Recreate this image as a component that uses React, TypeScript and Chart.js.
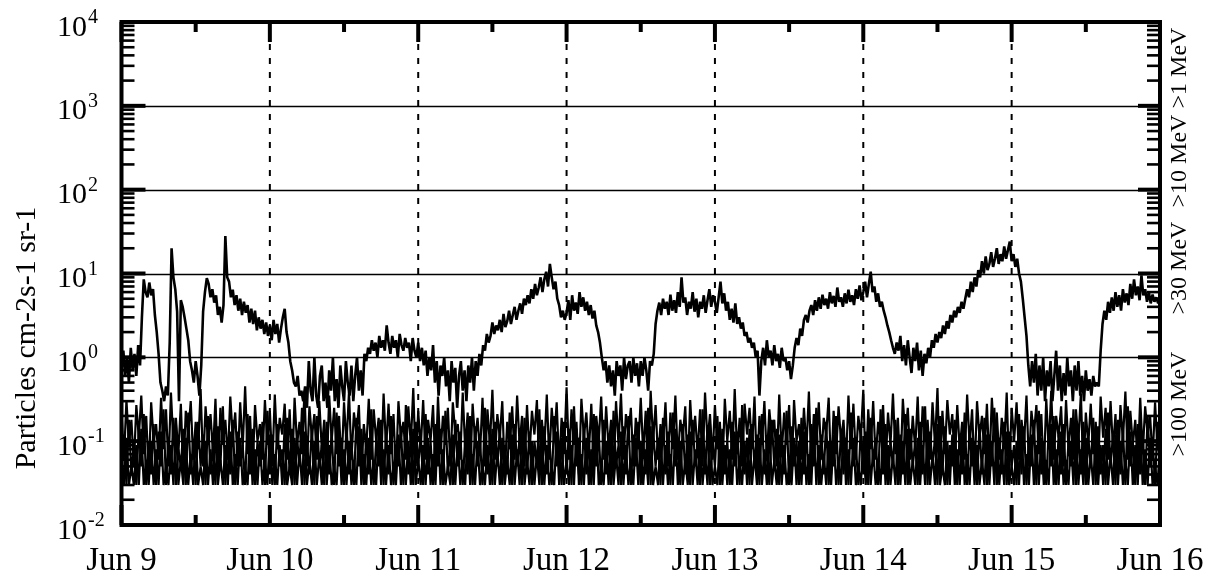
import { useEffect, useRef } from "react";
import { Chart, registerables } from "chart.js";

Chart.register(...registerables);

// ---- data -------------------------------------------------------------
const DAY_LABELS = ["Jun 9", "Jun 10", "Jun 11", "Jun 12", "Jun 13", "Jun 14", "Jun 15", "Jun 16"];
const SAMPLES_PER_DAY_1MEV = 80;
const SAMPLES_PER_DAY_HIGH = 60;
const Y_EXPONENTS = [-2, -1, 0, 1, 2, 3, 4];
const GRID_EXPONENTS = [-1, 0, 1, 2, 3];
const Y_TITLE = "Particles cm-2s-1 sr-1";
const CHANNEL_LABELS = [">100 MeV", ">30 MeV", ">10 MeV", ">1 MeV"];

// >1 MeV integral flux (80 samples per day)
const flux1MeV = [
  // Jun 9
  0.9, 1.2, 0.6, 1.0, 0.5, 1.3, 0.7, 1.1, 0.6, 1.4, 0.8, 3.0, 8.5, 6.0, 5.2, 7.8, 5.5, 6.5, 3.2, 2.0,
  1.1, 0.5, 0.4, 0.3, 0.45, 0.35, 1.5, 20, 9.0, 6.5, 3.5, 0.3, 4.8, 4.0, 3.0, 2.2, 1.6, 0.9, 0.7, 0.5,
  0.9, 0.6, 0.35, 0.8, 3.5, 6.0, 8.8, 7.5, 5.2, 6.5, 4.5, 5.5, 3.2, 4.0, 2.6, 4.2, 28, 9.0, 8.0, 5.2,
  6.4, 4.2, 5.5, 3.6, 5.0, 3.2, 4.6, 3.4, 4.2, 2.6, 3.8, 2.5, 3.6, 2.1, 3.0, 2.2, 2.8, 1.9, 2.6, 1.8,
  // Jun 10
  2.4, 1.6, 2.8, 1.9, 2.5, 1.5, 2.2, 3.0, 3.8, 2.0, 1.5, 0.9, 0.7, 0.5, 0.45, 0.6, 0.35, 0.4, 0.3, 0.45,
  0.25, 0.9, 0.4, 0.3, 1.0, 0.35, 0.25, 0.6, 0.8, 0.3, 0.5, 0.25, 0.7, 0.4, 1.0, 0.3, 0.55, 0.25, 0.8, 0.45,
  0.3, 0.9, 0.5, 0.35, 0.8, 0.3, 0.6, 1.0, 0.4, 0.7, 0.35, 1.1, 0.9, 1.3, 1.1, 1.6, 1.2, 1.5, 1.0, 1.8,
  1.3, 1.6, 1.2, 2.4, 1.5, 1.1, 1.8, 1.3, 1.6, 1.0, 1.9, 1.4, 1.2, 1.7, 1.3, 1.5, 0.9, 1.7, 1.2, 1.0,
  // Jun 11
  1.5, 0.9, 1.3, 0.8, 1.2, 0.6, 1.0, 0.7, 1.4, 0.5, 0.9, 0.35, 0.8, 0.6, 1.0, 0.45, 0.7, 0.3, 0.9, 0.5,
  0.75, 0.25, 0.6, 0.9, 0.4, 0.7, 0.3, 0.8, 0.5, 1.0, 0.4, 0.9, 0.6, 1.1, 0.8, 1.4, 1.2, 1.9, 1.5, 1.8,
  2.6, 1.9, 2.4, 2.1, 2.8, 2.0, 3.3, 2.3, 2.7, 3.6, 2.5, 3.2, 4.0, 2.8, 3.6, 4.4, 3.3, 5.0, 4.2, 5.5,
  4.4, 6.5, 5.0, 7.5, 5.5, 6.8, 9.0, 6.0, 8.5, 10.5, 7.0, 13, 9.0, 6.5, 8.0, 5.0, 4.2, 3.0, 3.6, 2.8,
  // Jun 12
  3.4, 4.8, 2.8, 5.5, 3.6, 4.5, 3.3, 6.0, 4.0, 5.2, 3.6, 4.6, 3.2, 4.2, 2.9, 3.6, 2.4, 2.0, 1.5, 1.0,
  0.7, 0.9, 0.5, 0.8, 0.45, 0.7, 0.35, 0.9, 0.6, 0.8, 0.4, 1.0, 0.55, 0.8, 0.9, 0.5, 1.0, 0.6, 0.85, 0.45,
  0.9, 0.6, 1.0, 0.7, 0.4, 0.9, 0.8, 1.1, 2.5, 3.6, 4.5, 3.2, 5.0, 3.8, 4.6, 3.2, 5.6, 3.6, 4.8, 3.4,
  6.0, 4.0, 9.0, 4.5, 5.2, 3.2, 4.6, 3.8, 6.0, 3.5, 5.0, 3.0, 4.6, 3.8, 5.5, 3.4, 4.8, 6.5, 4.0, 5.5,
  // Jun 13
  4.6, 3.4, 5.2, 8.0, 4.4, 5.8, 3.6, 4.6, 2.8, 3.8, 2.6, 4.4, 2.5, 3.0, 2.2, 2.6, 1.8, 2.0, 1.5, 1.7,
  1.3, 1.5, 1.0, 1.2, 0.35, 0.9, 1.3, 0.8, 1.6, 1.0, 1.2, 0.8, 1.4, 0.9, 1.1, 0.75, 1.3, 0.9, 1.0, 0.7,
  0.9, 0.55, 0.8, 1.3, 1.7, 1.4, 2.2, 1.8, 2.8, 3.2, 2.6, 3.6, 4.2, 3.2, 4.8, 3.6, 5.2, 3.8, 5.6, 4.2,
  5.0, 3.8, 6.0, 4.4, 5.4, 4.0, 6.8, 4.6, 5.2, 4.0, 5.8, 4.4, 6.4, 4.6, 5.5, 4.2, 6.5, 5.0, 7.2, 4.8,
  // Jun 14
  6.0, 8.0, 5.2, 7.5, 10.5, 6.0, 7.0, 4.6, 5.8, 4.0, 4.6, 3.6, 3.0, 2.4, 2.0, 1.6, 1.3, 1.1, 1.5, 1.2,
  1.8, 0.9, 1.4, 0.8, 1.6, 1.0, 0.65, 1.3, 0.9, 1.5, 0.7, 1.2, 0.6, 1.1, 0.85, 1.3, 1.0, 1.6, 1.3, 1.9,
  1.5, 2.0, 1.7, 2.4, 1.9, 2.7, 2.2, 3.2, 2.6, 3.6, 3.0, 4.0, 3.4, 4.6, 3.8, 5.0, 6.5, 5.2, 8.0, 6.0,
  9.0, 7.0, 11, 9.0, 14, 10, 16, 11, 13, 18, 12, 15, 20, 13, 17, 14, 21, 15, 19, 24,
  // Jun 15
  14, 17, 12, 15, 10, 8.0, 5.0, 3.0, 1.8, 0.8, 0.45, 0.9, 0.5, 1.1, 0.35, 0.8, 0.4, 1.0, 0.3, 0.7,
  0.45, 0.9, 0.3, 0.6, 1.2, 0.4, 0.8, 0.3, 0.65, 0.35, 1.0, 0.45, 0.7, 0.3, 0.8, 0.4, 0.9, 0.35, 0.6, 0.3,
  0.7, 0.4, 0.55, 0.35, 0.6, 0.45, 0.5, 0.45, 1.2, 2.5, 3.6, 2.8, 4.6, 3.4, 5.2, 3.6, 6.0, 4.0, 5.5, 3.6,
  6.5, 4.5, 5.8, 4.2, 7.5, 5.0, 8.5, 5.5, 7.0, 4.8, 9.5, 5.5, 6.5, 4.6, 6.0, 4.4, 5.6, 4.6, 5.2, 4.4,
  // Jun 16
  5.0,
];

// >10 MeV integral flux (60 samples per day)
const flux10MeV = [
  0.22, 0.06, 0.31, 0.09, 0.18, 0.05, 0.27, 0.11, 0.35, 0.07, 0.2, 0.04, 0.29, 0.1, 0.16, 0.06, 0.33, 0.08, 0.24, 0.05,
  0.38, 0.09, 0.19, 0.07, 0.28, 0.04, 0.23, 0.12, 0.3, 0.06, 0.17, 0.08, 0.42, 0.05, 0.26, 0.1, 0.21, 0.07, 0.32, 0.04,
  0.25, 0.09, 0.18, 0.06, 0.34, 0.11, 0.22, 0.05, 0.29, 0.08, 0.45, 0.07, 0.2, 0.04, 0.27, 0.1, 0.16, 0.06, 0.31, 0.09,
  0.23, 0.05, 0.36, 0.08, 0.19, 0.12, 0.28, 0.06, 0.24, 0.04, 0.33, 0.09, 0.17, 0.07, 0.4, 0.05, 0.26, 0.11, 0.21, 0.06,
  0.3, 0.08, 0.18, 0.04, 0.35, 0.1, 0.25, 0.07, 0.2, 0.05, 0.29, 0.09, 0.39, 0.06, 0.22, 0.12, 0.27, 0.04, 0.16, 0.08,
  0.32, 0.06, 0.24, 0.1, 0.19, 0.05, 0.37, 0.08, 0.28, 0.07, 0.21, 0.04, 0.3, 0.11, 0.17, 0.06, 0.26, 0.09, 0.43, 0.05,
  0.23, 0.08, 0.31, 0.06, 0.18, 0.1, 0.27, 0.04, 0.34, 0.07, 0.2, 0.09, 0.25, 0.05, 0.29, 0.12, 0.16, 0.06, 0.38, 0.08,
  0.22, 0.04, 0.28, 0.1, 0.19, 0.07, 0.33, 0.05, 0.24, 0.09, 0.41, 0.06, 0.21, 0.11, 0.3, 0.04, 0.17, 0.08, 0.26, 0.06,
  0.35, 0.09, 0.2, 0.05, 0.27, 0.07, 0.23, 0.12, 0.31, 0.04, 0.18, 0.08, 0.36, 0.06, 0.25, 0.1, 0.29, 0.05, 0.19, 0.07,
  0.44, 0.06, 0.24, 0.09, 0.17, 0.04, 0.32, 0.11, 0.22, 0.07, 0.28, 0.05, 0.2, 0.1, 0.34, 0.06, 0.26, 0.08, 0.18, 0.04,
  0.3, 0.09, 0.37, 0.06, 0.21, 0.12, 0.25, 0.05, 0.19, 0.08, 0.33, 0.07, 0.23, 0.04, 0.4, 0.1, 0.27, 0.06, 0.16, 0.09,
  0.29, 0.05, 0.22, 0.08, 0.35, 0.06, 0.18, 0.11, 0.26, 0.04, 0.31, 0.09, 0.2, 0.07, 0.24, 0.05, 0.38, 0.1, 0.21, 0.06,
  0.27, 0.08, 0.17, 0.04, 0.32, 0.1, 0.23, 0.06, 0.42, 0.07, 0.19, 0.05, 0.28, 0.12, 0.25, 0.08, 0.34, 0.04, 0.2, 0.09,
  0.3, 0.06, 0.24, 0.11, 0.18, 0.05, 0.36, 0.07, 0.22, 0.09, 0.27, 0.04, 0.31, 0.1, 0.16, 0.06, 0.25, 0.08, 0.39, 0.05,
  0.21, 0.09, 0.29, 0.06, 0.19, 0.12, 0.33, 0.04, 0.23, 0.07, 0.26, 0.1, 0.18, 0.05, 0.35, 0.08, 0.28, 0.06, 0.2, 0.11,
  0.41, 0.04, 0.24, 0.08, 0.3, 0.06, 0.17, 0.1, 0.27, 0.05, 0.22, 0.09, 0.37, 0.07, 0.19, 0.04, 0.32, 0.11, 0.25, 0.06,
  0.2, 0.08, 0.34, 0.05, 0.26, 0.1, 0.18, 0.06, 0.29, 0.09, 0.43, 0.04, 0.23, 0.07, 0.31, 0.12, 0.21, 0.05, 0.27, 0.08,
  0.17, 0.06, 0.36, 0.09, 0.24, 0.04, 0.3, 0.11, 0.2, 0.07, 0.28, 0.05, 0.33, 0.1, 0.22, 0.06, 0.19, 0.08, 0.38, 0.04,
  0.25, 0.1, 0.29, 0.06, 0.18, 0.09, 0.35, 0.05, 0.23, 0.12, 0.27, 0.07, 0.21, 0.04, 0.32, 0.08, 0.4, 0.06, 0.2, 0.11,
  0.26, 0.05, 0.31, 0.08, 0.19, 0.06, 0.24, 0.1, 0.37, 0.04, 0.22, 0.09, 0.28, 0.07, 0.17, 0.05, 0.34, 0.11, 0.25, 0.06,
  0.3, 0.08, 0.21, 0.04, 0.27, 0.1, 0.39, 0.06, 0.23, 0.09, 0.18, 0.05, 0.33, 0.07, 0.26, 0.12, 0.2, 0.06, 0.29, 0.08,
  0.24,
];

// >30 MeV integral flux (60 samples per day)
const flux30MeV = [
  0.04, 0.12, 0.03, 0.18, 0.04, 0.09, 0.03, 0.15, 0.05, 0.21, 0.03, 0.1, 0.04, 0.16, 0.03, 0.13, 0.05, 0.24, 0.03, 0.11,
  0.04, 0.19, 0.03, 0.08, 0.05, 0.14, 0.03, 0.22, 0.04, 0.1, 0.03, 0.17, 0.05, 0.12, 0.03, 0.2, 0.04, 0.09, 0.03, 0.15,
  0.05, 0.26, 0.03, 0.11, 0.04, 0.18, 0.03, 0.13, 0.05, 0.09, 0.03, 0.21, 0.04, 0.14, 0.03, 0.1, 0.05, 0.17, 0.03, 0.23,
  0.04, 0.12, 0.03, 0.16, 0.05, 0.08, 0.03, 0.19, 0.04, 0.14, 0.03, 0.11, 0.05, 0.25, 0.03, 0.1, 0.04, 0.15, 0.03, 0.2,
  0.05, 0.09, 0.03, 0.17, 0.04, 0.13, 0.03, 0.22, 0.05, 0.11, 0.03, 0.16, 0.04, 0.1, 0.03, 0.19, 0.05, 0.14, 0.03, 0.12,
  0.04, 0.24, 0.03, 0.1, 0.05, 0.18, 0.03, 0.13, 0.04, 0.2, 0.03, 0.09, 0.05, 0.15, 0.03, 0.27, 0.04, 0.11, 0.03, 0.17,
  0.05, 0.12, 0.03, 0.21, 0.04, 0.1, 0.03, 0.16, 0.05, 0.14, 0.03, 0.23, 0.04, 0.09, 0.03, 0.18, 0.05, 0.13, 0.03, 0.11,
  0.04, 0.2, 0.03, 0.15, 0.05, 0.1, 0.03, 0.25, 0.04, 0.12, 0.03, 0.17, 0.05, 0.14, 0.03, 0.09, 0.04, 0.22, 0.03, 0.16,
  0.05, 0.11, 0.03, 0.19, 0.04, 0.13, 0.03, 0.1, 0.05, 0.24, 0.03, 0.15, 0.04, 0.12, 0.03, 0.2, 0.05, 0.09, 0.03, 0.17,
  0.04, 0.14, 0.03, 0.26, 0.05, 0.11, 0.03, 0.16, 0.04, 0.1, 0.03, 0.21, 0.05, 0.13, 0.03, 0.18, 0.04, 0.12, 0.03, 0.23,
  0.05, 0.09, 0.03, 0.15, 0.04, 0.2, 0.03, 0.12, 0.05, 0.17, 0.03, 0.1, 0.04, 0.25, 0.03, 0.14, 0.05, 0.11, 0.03, 0.19,
  0.04, 0.13, 0.03, 0.22, 0.05, 0.1, 0.03, 0.16, 0.04, 0.12, 0.03, 0.18, 0.05, 0.09, 0.03, 0.24, 0.04, 0.15, 0.03, 0.11,
  0.05, 0.2, 0.03, 0.14, 0.04, 0.1, 0.03, 0.17, 0.05, 0.13, 0.03, 0.27, 0.04, 0.11, 0.03, 0.16, 0.05, 0.12, 0.03, 0.21,
  0.04, 0.09, 0.03, 0.18, 0.05, 0.14, 0.03, 0.11, 0.04, 0.23, 0.03, 0.15, 0.05, 0.1, 0.03, 0.19, 0.04, 0.13, 0.03, 0.16,
  0.05, 0.25, 0.03, 0.12, 0.04, 0.17, 0.03, 0.1, 0.05, 0.2, 0.03, 0.14, 0.04, 0.11, 0.03, 0.22, 0.05, 0.09, 0.03, 0.15,
  0.04, 0.13, 0.03, 0.19, 0.05, 0.11, 0.03, 0.24, 0.04, 0.16, 0.03, 0.1, 0.05, 0.18, 0.03, 0.12, 0.04, 0.21, 0.03, 0.14,
  0.05, 0.1, 0.03, 0.17, 0.04, 0.26, 0.03, 0.13, 0.05, 0.11, 0.03, 0.2, 0.04, 0.15, 0.03, 0.09, 0.05, 0.18, 0.03, 0.12,
  0.04, 0.22, 0.03, 0.14, 0.05, 0.1, 0.03, 0.16, 0.04, 0.19, 0.03, 0.12, 0.05, 0.25, 0.03, 0.11, 0.04, 0.17, 0.03, 0.13,
  0.05, 0.09, 0.03, 0.21, 0.04, 0.15, 0.03, 0.11, 0.05, 0.18, 0.03, 0.23, 0.04, 0.1, 0.03, 0.14, 0.05, 0.2, 0.03, 0.12,
  0.04, 0.16, 0.03, 0.1, 0.05, 0.24, 0.03, 0.13, 0.04, 0.17, 0.03, 0.11, 0.05, 0.19, 0.03, 0.15, 0.04, 0.09, 0.03, 0.22,
  0.05, 0.12, 0.03, 0.18, 0.04, 0.14, 0.03, 0.26, 0.05, 0.1, 0.03, 0.16, 0.04, 0.13, 0.03, 0.2, 0.05, 0.11, 0.03, 0.17,
  0.04,
];

// >100 MeV integral flux (60 samples per day)
const flux100MeV = [
  0.07, 0.03, 0.11, 0.03, 0.05, 0.03, 0.09, 0.03, 0.14, 0.03, 0.06, 0.03, 0.1, 0.03, 0.08, 0.03, 0.13, 0.03, 0.05, 0.03,
  0.09, 0.03, 0.16, 0.03, 0.06, 0.03, 0.11, 0.03, 0.07, 0.03, 0.12, 0.03, 0.05, 0.03, 0.1, 0.03, 0.08, 0.03, 0.15, 0.03,
  0.06, 0.03, 0.09, 0.03, 0.13, 0.03, 0.07, 0.03, 0.11, 0.03, 0.05, 0.03, 0.14, 0.03, 0.08, 0.03, 0.1, 0.03, 0.06, 0.03,
  0.12, 0.03, 0.07, 0.03, 0.09, 0.03, 0.16, 0.03, 0.05, 0.03, 0.11, 0.03, 0.08, 0.03, 0.13, 0.03, 0.06, 0.03, 0.1, 0.03,
  0.07, 0.03, 0.14, 0.03, 0.09, 0.03, 0.05, 0.03, 0.12, 0.03, 0.08, 0.03, 0.1, 0.03, 0.06, 0.03, 0.15, 0.03, 0.07, 0.03,
  0.11, 0.03, 0.06, 0.03, 0.13, 0.03, 0.08, 0.03, 0.09, 0.03, 0.05, 0.03, 0.12, 0.03, 0.07, 0.03, 0.1, 0.03, 0.14, 0.03,
  0.06, 0.03, 0.09, 0.03, 0.11, 0.03, 0.07, 0.03, 0.16, 0.03, 0.08, 0.03, 0.05, 0.03, 0.12, 0.03, 0.1, 0.03, 0.06, 0.03,
  0.13, 0.03, 0.07, 0.03, 0.1, 0.03, 0.05, 0.03, 0.09, 0.03, 0.14, 0.03, 0.08, 0.03, 0.11, 0.03, 0.06, 0.03, 0.12, 0.03,
  0.08, 0.03, 0.15, 0.03, 0.06, 0.03, 0.1, 0.03, 0.07, 0.03, 0.12, 0.03, 0.09, 0.03, 0.05, 0.03, 0.13, 0.03, 0.11, 0.03,
  0.06, 0.03, 0.09, 0.03, 0.14, 0.03, 0.07, 0.03, 0.11, 0.03, 0.08, 0.03, 0.16, 0.03, 0.05, 0.03, 0.1, 0.03, 0.12, 0.03,
  0.07, 0.03, 0.13, 0.03, 0.09, 0.03, 0.06, 0.03, 0.11, 0.03, 0.1, 0.03, 0.08, 0.03, 0.15, 0.03, 0.05, 0.03, 0.12, 0.03,
  0.09, 0.03, 0.07, 0.03, 0.14, 0.03, 0.1, 0.03, 0.06, 0.03, 0.13, 0.03, 0.08, 0.03, 0.11, 0.03, 0.07, 0.03, 0.16, 0.03,
  0.05, 0.03, 0.12, 0.03, 0.09, 0.03, 0.08, 0.03, 0.13, 0.03, 0.06, 0.03, 0.1, 0.03, 0.14, 0.03, 0.07, 0.03, 0.11, 0.03,
  0.08, 0.03, 0.15, 0.03, 0.06, 0.03, 0.12, 0.03, 0.09, 0.03, 0.05, 0.03, 0.11, 0.03, 0.1, 0.03, 0.13, 0.03, 0.07, 0.03,
  0.16, 0.03, 0.09, 0.03, 0.07, 0.03, 0.1, 0.03, 0.12, 0.03, 0.06, 0.03, 0.14, 0.03, 0.08, 0.03, 0.11, 0.03, 0.05, 0.03,
  0.1, 0.03, 0.13, 0.03, 0.08, 0.03, 0.06, 0.03, 0.15, 0.03, 0.09, 0.03, 0.07, 0.03, 0.12, 0.03, 0.1, 0.03, 0.14, 0.03,
  0.06, 0.03, 0.11, 0.03, 0.09, 0.03, 0.13, 0.03, 0.07, 0.03, 0.16, 0.03, 0.05, 0.03, 0.1, 0.03, 0.12, 0.03, 0.08, 0.03,
  0.14, 0.03, 0.07, 0.03, 0.11, 0.03, 0.09, 0.03, 0.06, 0.03, 0.12, 0.03, 0.1, 0.03, 0.15, 0.03, 0.08, 0.03, 0.13, 0.03,
  0.05, 0.03, 0.1, 0.03, 0.14, 0.03, 0.07, 0.03, 0.12, 0.03, 0.09, 0.03, 0.11, 0.03, 0.06, 0.03, 0.16, 0.03, 0.08, 0.03,
  0.13, 0.03, 0.06, 0.03, 0.1, 0.03, 0.15, 0.03, 0.08, 0.03, 0.11, 0.03, 0.07, 0.03, 0.12, 0.03, 0.09, 0.03, 0.14, 0.03,
  0.07, 0.03, 0.12, 0.03, 0.1, 0.03, 0.06, 0.03, 0.13, 0.03, 0.09, 0.03, 0.16, 0.03, 0.08, 0.03, 0.11, 0.03, 0.05, 0.03,
  0.09,
];

// ---- helpers ----------------------------------------------------------
const toPoints = (arr: number[], perDay: number) => arr.map((v, i) => ({ x: i / perDay, y: v }));
const SERIF = '"Liberation Serif", "Times New Roman", Times, serif';

const framePlugin = {
  id: "gnuplotFrame",
  beforeDatasetsDraw(chart: any) {
    const { ctx, chartArea: a, scales } = chart;
    const xs = scales.x;
    const ys = scales.y;
    ctx.save();
    ctx.strokeStyle = "#000";
    ctx.lineWidth = 1.5;
    for (const e of GRID_EXPONENTS) {
      const y = Math.round(ys.getPixelForValue(Math.pow(10, e))) + 0.5;
      ctx.beginPath();
      ctx.moveTo(a.left, y);
      ctx.lineTo(a.right, y);
      ctx.stroke();
    }
    ctx.lineWidth = 2;
    ctx.setLineDash([6, 8]);
    for (let d = 1; d < DAY_LABELS.length - 1; d++) {
      const x = xs.getPixelForValue(d);
      ctx.beginPath();
      ctx.moveTo(x, a.top + 22);
      ctx.lineTo(x, a.bottom);
      ctx.stroke();
    }
    ctx.restore();
  },
  afterDatasetsDraw(chart: any) {
    const { ctx, chartArea: a, scales } = chart;
    const xs = scales.x;
    const ys = scales.y;
    const line = (x1: number, y1: number, x2: number, y2: number) => {
      ctx.beginPath();
      ctx.moveTo(x1, y1);
      ctx.lineTo(x2, y2);
      ctx.stroke();
    };
    ctx.save();
    ctx.strokeStyle = "#000";
    ctx.fillStyle = "#000";
    ctx.lineCap = "butt";

    // y ticks (left and right, inside)
    for (const e of Y_EXPONENTS) {
      const y = ys.getPixelForValue(Math.pow(10, e));
      ctx.lineWidth = 4;
      line(a.left, y, a.left + 24, y);
      line(a.right - 22, y, a.right, y);
      if (e < Y_EXPONENTS[Y_EXPONENTS.length - 1]) {
        ctx.lineWidth = 2.6;
        for (let m = 2; m <= 9; m++) {
          const ym = ys.getPixelForValue(m * Math.pow(10, e));
          line(a.left, ym, a.left + 13, ym);
          line(a.right - 13, ym, a.right, ym);
        }
      }
    }
    // x ticks (top and bottom, inside)
    ctx.lineWidth = 4;
    for (let d = 0; d < DAY_LABELS.length; d++) {
      const x = xs.getPixelForValue(d);
      line(x, a.top, x, a.top + 20);
      line(x, a.bottom - 20, x, a.bottom);
      if (d < DAY_LABELS.length - 1) {
        const xm = xs.getPixelForValue(d + 0.5);
        line(xm, a.top, xm, a.top + 10);
        line(xm, a.bottom - 10, xm, a.bottom);
      }
    }
    // frame
    ctx.lineWidth = 4;
    ctx.strokeRect(a.left, a.top, a.right - a.left, a.bottom - a.top);

    // y tick labels: 10^e
    ctx.textAlign = "left";
    ctx.textBaseline = "alphabetic";
    for (const e of Y_EXPONENTS) {
      const y = ys.getPixelForValue(Math.pow(10, e));
      ctx.font = `30px ${SERIF}`;
      ctx.fillText("10", 57, y + 13.5);
      const w = ctx.measureText("10").width;
      ctx.font = `20px ${SERIF}`;
      ctx.fillText(String(e), 57 + w + 1, y + 1);
    }

    // x tick labels
    ctx.textAlign = "center";
    ctx.font = `33px ${SERIF}`;
    DAY_LABELS.forEach((lab, d) => {
      ctx.fillText(lab, xs.getPixelForValue(d), 570);
    });

    // y axis title
    ctx.save();
    ctx.translate(35, 338);
    ctx.rotate(-Math.PI / 2);
    ctx.font = `30px ${SERIF}`;
    ctx.textAlign = "center";
    ctx.fillText(Y_TITLE, 0, 0);
    ctx.restore();

    // channel labels on the right
    const channelCenters = [404, 268, 161, 68];
    CHANNEL_LABELS.forEach((lab, i) => {
      ctx.save();
      ctx.translate(1186, channelCenters[i]);
      ctx.rotate(-Math.PI / 2);
      ctx.font = `24px ${SERIF}`;
      ctx.textAlign = "center";
      ctx.fillText(lab, 0, 0);
      ctx.restore();
    });

    ctx.restore();
  },
};

export default function App() {
  const canvasRef = useRef<HTMLCanvasElement | null>(null);

  useEffect(() => {
    const canvas = canvasRef.current;
    if (!canvas) return;
    const lineStyle = {
      borderColor: "#000",
      borderWidth: 2.2,
      pointRadius: 0,
      tension: 0,
      borderJoinStyle: "bevel" as const,
      fill: false,
    };
    const chart = new Chart(canvas, {
      type: "line",
      data: {
        datasets: [
          { label: ">100 MeV", data: toPoints(flux100MeV, SAMPLES_PER_DAY_HIGH), ...lineStyle },
          { label: ">30 MeV", data: toPoints(flux30MeV, SAMPLES_PER_DAY_HIGH), ...lineStyle },
          { label: ">10 MeV", data: toPoints(flux10MeV, SAMPLES_PER_DAY_HIGH), ...lineStyle },
          { label: ">1 MeV", data: toPoints(flux1MeV, SAMPLES_PER_DAY_1MEV), ...lineStyle, borderWidth: 2.6 },
        ],
      },
      options: {
        animation: false,
        responsive: false,
        devicePixelRatio: 1,
        layout: { padding: { left: 121.5, right: 57, top: 22, bottom: 52 } },
        plugins: { legend: { display: false }, tooltip: { enabled: false } },
        scales: {
          x: { type: "linear", min: 0, max: DAY_LABELS.length - 1, display: false },
          y: { type: "logarithmic", min: 0.01, max: 10000, display: false },
        },
      },
      plugins: [framePlugin],
    });
    return () => chart.destroy();
  }, []);

  return (
    <div style={{ position: "fixed", left: 0, top: 0, width: 1217, height: 577, background: "#fff" }}>
      <canvas ref={canvasRef} width={1217} height={577} style={{ width: 1217, height: 577, display: "block" }} />
    </div>
  );
}
